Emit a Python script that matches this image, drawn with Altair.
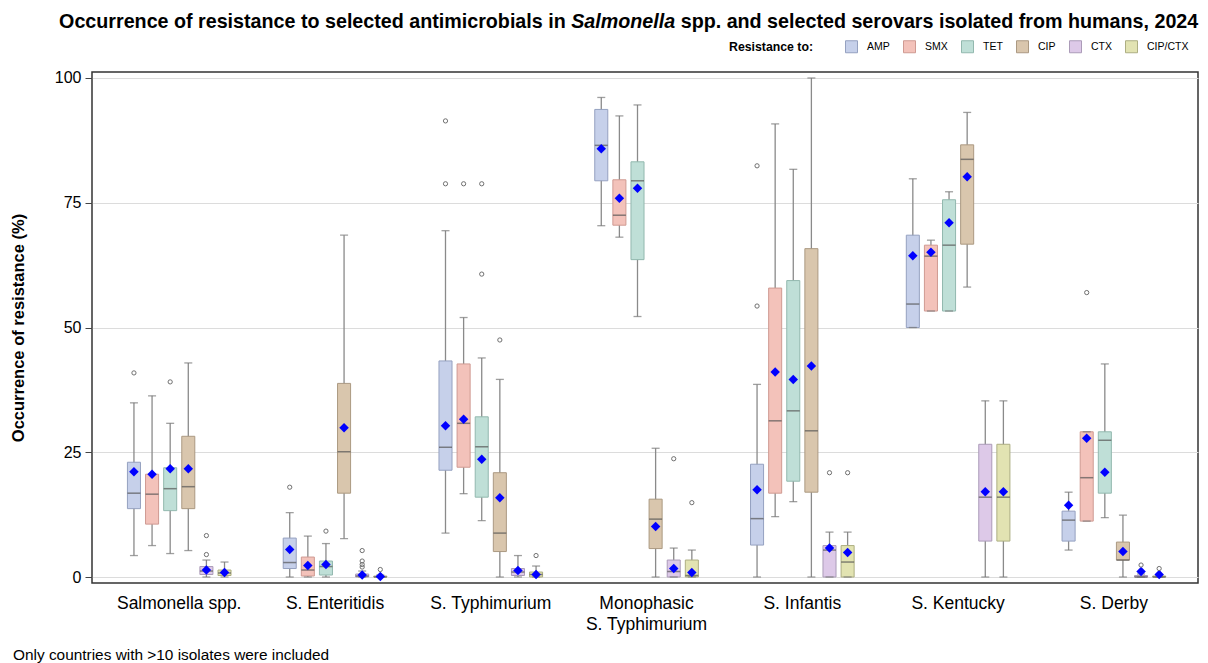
import altair as alt
import pandas as pd

SEROVARS = ["Salmonella spp.", "S. Enteritidis", "S. Typhimurium",
            "Monophasic S. Typhimurium", "S. Infantis", "S. Kentucky", "S. Derby"]
DRUGS = ["AMP", "SMX", "TET", "CIP", "CTX", "CIP/CTX"]

# per serovar, values for AMP, SMX, TET, CIP, CTX, CIP/CTX
WHISK_LO = [
    [4.3, 6.3, 4.7, 5.3, 0, 0],
    [0, 0, 0, 7.7, 0, 0],
    [8.8, 16.7, 11.3, 0, 0, 0],
    [70.4, 68.1, 52.2, 0, 0, 0],
    [0, 12.1, 15.1, 0, 0, 0],
    [50.0, 53.3, 53.3, 58.1, 0, 0],
    [5.4, 11.2, 11.9, 0, 0, 0],
]
Q1 = [
    [13.7, 10.6, 13.3, 13.7, 0.5, 0.3],
    [1.7, 0.2, 0.4, 16.8, 0, 0],
    [21.4, 22.0, 16.0, 5.1, 0.3, 0],
    [79.4, 70.5, 63.6, 5.7, 0, 0],
    [6.4, 16.8, 19.2, 17.0, 0, 0],
    [50.0, 53.3, 53.3, 66.7, 7.2, 7.2],
    [7.2, 11.2, 16.8, 3.4, 0, 0],
]
MEDIAN = [
    [16.8, 16.6, 17.7, 18.1, 1.2, 0.8],
    [2.9, 1.4, 2.1, 25.1, 0.2, 0],
    [26.0, 30.8, 26.1, 8.8, 1.0, 0.5],
    [86.5, 72.5, 79.4, 11.6, 1.1, 0.3],
    [11.7, 31.3, 33.3, 29.3, 5.4, 3.0],
    [54.7, 64.3, 66.5, 83.7, 16.0, 16.0],
    [11.4, 19.9, 27.4, 3.4, 0, 0],
]
Q3 = [
    [23.0, 20.6, 21.9, 28.2, 2.1, 1.4],
    [7.8, 4.0, 3.2, 38.8, 0.6, 0.2],
    [43.3, 42.7, 32.1, 20.9, 1.7, 1.0],
    [93.7, 79.6, 83.2, 15.6, 3.4, 3.4],
    [22.6, 57.9, 59.4, 65.8, 6.3, 6.3],
    [68.5, 66.5, 75.6, 86.6, 26.6, 26.6],
    [13.2, 29.1, 29.1, 7.0, 0.3, 0.2],
]
WHISK_HI = [
    [34.9, 36.3, 30.8, 42.9, 3.4, 3.0],
    [12.9, 8.2, 6.7, 68.5, 1.2, 0.4],
    [69.4, 52.0, 43.9, 39.6, 4.3, 2.2],
    [96.1, 92.4, 94.6, 25.8, 5.8, 5.4],
    [38.6, 90.8, 81.7, 100.0, 9.0, 9.0],
    [79.8, 67.5, 77.2, 93.1, 35.3, 35.3],
    [17.0, 29.1, 42.7, 12.4, 0.6, 0.4],
]
MEAN = [
    [21.1, 20.6, 21.7, 21.7, 1.4, 0.9],
    [5.5, 2.3, 2.5, 29.9, 0.4, 0.1],
    [30.3, 31.6, 23.6, 15.9, 1.3, 0.5],
    [85.8, 75.9, 77.9, 10.1, 1.7, 0.9],
    [17.5, 41.1, 39.6, 42.3, 5.8, 4.9],
    [64.4, 65.1, 71.0, 80.2, 17.1, 17.1],
    [14.4, 27.8, 21.0, 5.1, 1.1, 0.5],
]
OUTLIERS = [
    ("Salmonella spp.", "AMP", 40.9), ("Salmonella spp.", "TET", 39.1),
    ("Salmonella spp.", "CTX", 4.5), ("Salmonella spp.", "CTX", 8.3),
    ("S. Enteritidis", "AMP", 18.0), ("S. Enteritidis", "TET", 9.2),
    ("S. Enteritidis", "CTX", 5.3), ("S. Enteritidis", "CTX", 3.2),
    ("S. Enteritidis", "CTX", 2.5), ("S. Enteritidis", "CTX", 2.0),
    ("S. Enteritidis", "CIP/CTX", 1.5),
    ("S. Typhimurium", "AMP", 91.4), ("S. Typhimurium", "AMP", 78.8),
    ("S. Typhimurium", "SMX", 78.8), ("S. Typhimurium", "TET", 78.8),
    ("S. Typhimurium", "TET", 60.7), ("S. Typhimurium", "CIP", 47.5),
    ("S. Typhimurium", "CIP/CTX", 4.3),
    ("Monophasic S. Typhimurium", "CTX", 23.7),
    ("Monophasic S. Typhimurium", "CIP/CTX", 14.9),
    ("S. Infantis", "AMP", 82.4), ("S. Infantis", "AMP", 54.3),
    ("S. Infantis", "CTX", 20.9), ("S. Infantis", "CIP/CTX", 20.9),
    ("S. Derby", "SMX", 57.0), ("S. Derby", "CTX", 2.4),
    ("S. Derby", "CIP/CTX", 1.7),
]

FILLS = ["#c6d0ea", "#f3c2ba", "#bfdfd7", "#d9c6ad", "#ddc9e8", "#e2e3b2"]
STROKES = ["#95a1c0", "#cf9a92", "#92b8ae", "#ab9982", "#ab9bb8", "#adae82"]

TITLE_1 = "Occurrence of resistance to selected antimicrobials in"
TITLE_2 = "Salmonella"
TITLE_3 = "spp. and selected serovars isolated from humans, 2024"
FOOTNOTE = "Only countries with >10 isolates were included"

rows = []
for i, s in enumerate(SEROVARS):
    for j, d in enumerate(DRUGS):
        rows.append(dict(serovar=s, drug=d, lo=WHISK_LO[i][j], q1=Q1[i][j],
                         med=MEDIAN[i][j], q3=Q3[i][j], hi=WHISK_HI[i][j],
                         mean=MEAN[i][j]))
box_df = pd.DataFrame(rows)
out_df = pd.DataFrame(OUTLIERS, columns=["serovar", "drug", "value"])

FONT = "Liberation Sans"

x_enc = alt.X("serovar:N", sort=SEROVARS, title=None,
              scale=alt.Scale(paddingInner=0, paddingOuter=0.05, align=0.6),
              axis=alt.Axis(labelFontSize=17.5, labelColor="black", ticks=False,
                            domain=False, labelPadding=11, labelAngle=0,
                            labelLineHeight=21, grid=False, labelFont=FONT,
                            labelExpr="datum.value == 'Monophasic S. Typhimurium' ? ['Monophasic', 'S. Typhimurium'] : datum.value"))
# blank slots at both ends of each cluster leave the gap between serovars
OFFSET_DOMAIN = ["_gap0"] + DRUGS + ["_gap1"]
xo_enc = alt.XOffset("drug:N",
                     scale=alt.Scale(domain=OFFSET_DOMAIN, paddingInner=0.28,
                                     paddingOuter=0.44))
y_scale = alt.Scale(domain=[-1.2, 101.2], nice=False, zero=False)
y_axis = alt.Axis(values=[0, 25, 50, 75, 100], labelFontSize=16, labelColor="black",
                  tickSize=7, tickColor="#444", labelPadding=4, grid=True,
                  gridColor="#dcdcdc", domain=False, title="Occurrence of resistance (%)",
                  titleFontSize=16.5, titleFontWeight="bold", titleColor="black",
                  titleX=-74, titleY=255.5, titleAngle=270, titleAlign="center",
                  titleBaseline="middle", labelFont=FONT, titleFont=FONT)

base = alt.Chart(box_df)

whisk = base.mark_rule(color="#8a8a8a", strokeWidth=1.3).encode(
    x=x_enc, xOffset=xo_enc,
    y=alt.Y("lo:Q", scale=y_scale, axis=y_axis), y2="hi:Q")

boxes = base.mark_bar(strokeWidth=1, opacity=1).encode(
    x=x_enc, xOffset=xo_enc,
    y=alt.Y("q1:Q", scale=y_scale), y2="q3:Q",
    fill=alt.Fill("drug:N",
                  scale=alt.Scale(domain=DRUGS, range=FILLS),
                  legend=alt.Legend(orient="none", legendX=637, legendY=-32,
                                    direction="horizontal", title="Resistance to:",
                                    titleOrient="left", titleFontSize=12.3,
                                    titleFontWeight="bold", titleFont=FONT,
                                    titleColor="black", titlePadding=31,
                                    labelFontSize=10.5, labelFont=FONT,
                                    labelColor="black", symbolType="square",
                                    symbolSize=144, columnPadding=11, labelOffset=9,
                                    symbolStrokeColor="#999999", symbolStrokeWidth=1,
                                    symbolOpacity=1)),
    stroke=alt.Stroke("drug:N",
                      scale=alt.Scale(domain=DRUGS, range=STROKES), legend=None))

lo_cap = base.mark_tick(color="#777", thickness=1.3, size=8).encode(
    x=x_enc, xOffset=xo_enc, y=alt.Y("lo:Q", scale=y_scale))
hi_cap = base.mark_tick(color="#777", thickness=1.3, size=8).encode(
    x=x_enc, xOffset=xo_enc, y=alt.Y("hi:Q", scale=y_scale))
median = base.mark_tick(color="#555", thickness=1.5, size=13).encode(
    x=x_enc, xOffset=xo_enc, y=alt.Y("med:Q", scale=y_scale))
means = base.mark_point(shape="diamond", filled=True, color="#0000ff",
                        size=90, opacity=1).encode(
    x=x_enc, xOffset=xo_enc, y=alt.Y("mean:Q", scale=y_scale))
outl = alt.Chart(out_df).mark_point(shape="circle", filled=False, color="#707070",
                                    size=18, strokeWidth=1, opacity=1).encode(
    x=x_enc, xOffset=xo_enc, y=alt.Y("value:Q", scale=y_scale))

one = alt.Data(values=[{"k": 1}])
t1 = alt.Chart(one).mark_text(font=FONT, fontSize=19.7, fontWeight="bold", align="right",
                              baseline="alphabetic", color="black").encode(
    x=alt.value(473.7), y=alt.value(-44), text=alt.value(TITLE_1))
t2 = alt.Chart(one).mark_text(font=FONT, fontSize=19.7, fontWeight="bold", fontStyle="italic",
                              align="left", baseline="alphabetic", color="black").encode(
    x=alt.value(479.2), y=alt.value(-44), text=alt.value(TITLE_2))
t3 = alt.Chart(one).mark_text(font=FONT, fontSize=19.7, fontWeight="bold", align="left",
                              baseline="alphabetic", color="black").encode(
    x=alt.value(588.7), y=alt.value(-44), text=alt.value(TITLE_3))
foot = alt.Chart(one).mark_text(font=FONT, fontSize=15.4, align="left",
                                baseline="middle", color="black").encode(
    x=alt.value(-79), y=alt.value(583), text=alt.value(FOOTNOTE))

chart = alt.layer(whisk, boxes, lo_cap, hi_cap, median, means, outl,
                  t1, t2, t3, foot).properties(
    width=1106, height=511,
    padding={"left": 84, "top": 64, "right": 2, "bottom": 80},
    autosize=alt.AutoSizeParams(type="none"),
).configure(font=FONT).configure_view(stroke="#333333", strokeWidth=1.5)

chart.save("out.html", embed_options={"renderer": "svg", "actions": False})
